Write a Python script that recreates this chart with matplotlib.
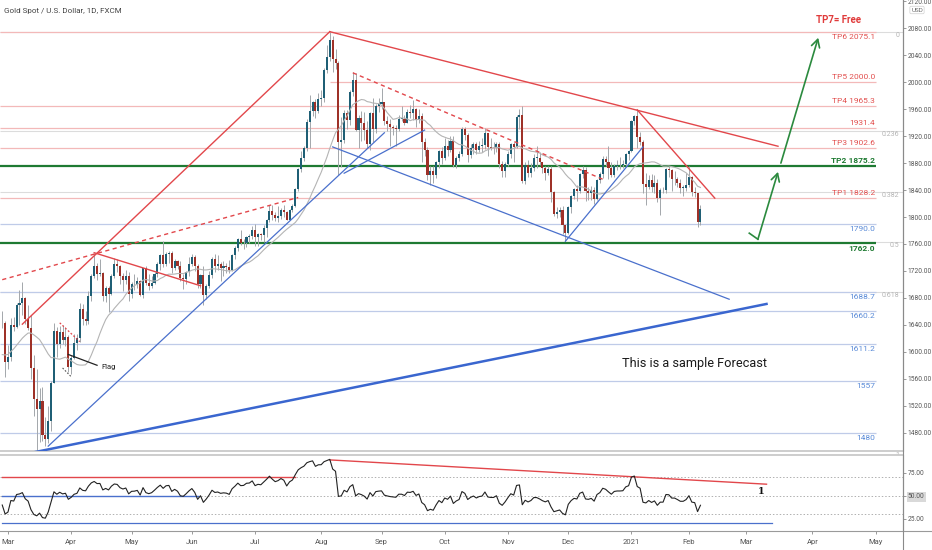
import numpy as np
import pandas as pd
import matplotlib
matplotlib.use('Agg')
import matplotlib.pyplot as plt
from matplotlib.lines import Line2D

plt.rcParams['font.family'] = ['Roboto', 'DejaVu Sans']

# ---------------- data ----------------
title = 'Gold Spot / U.S. Dollar, 1D, FXCM'
holidays = ['2020-04-10', '2020-12-25', '2021-01-01']

# closes before the visible window (used for SMA / RSI warm-up), 2020-02-03 .. 2020-02-26
warmup_closes = [1576, 1553, 1556, 1566, 1570, 1572, 1567, 1566, 1576, 1584, 1581, 1601,
                 1611, 1620, 1643, 1659, 1634, 1642]

first_open = 1642  # 2020-02-27
closes = [
    1643, 1585,
    1592, 1640, 1637, 1670, 1673, 1680, 1649, 1636, 1576, 1530, 1515, 1527, 1477, 1470, 1498, 1553, 1631, 1612, 1629, 1617, 1622, 1577,
    1591, 1613, 1620, 1663, 1648, 1645, 1683, 1713, 1727, 1716, 1717, 1683, 1694, 1686, 1713, 1730, 1728, 1713, 1707, 1713, 1686,
    1700, 1701, 1705, 1685, 1725, 1702, 1697, 1702, 1715, 1730, 1743, 1731, 1745, 1747, 1725, 1735, 1728, 1710, 1708, 1718, 1730,
    1740, 1727, 1700, 1714, 1684, 1697, 1714, 1737, 1728, 1730, 1725, 1727, 1726, 1722, 1743, 1754, 1768, 1761, 1762, 1771, 1772, 1781,
    1770, 1775, 1774, 1784, 1795, 1809, 1803, 1798, 1802, 1810, 1807, 1796, 1810, 1817, 1841, 1871, 1888, 1902, 1941, 1958, 1970, 1957, 1975,
    1976, 2018, 2038, 2063, 2035, 2028, 1911, 1915, 1954, 1944, 1985, 2003, 1929, 1947, 1940, 1929, 1908, 1954, 1930, 1964, 1968,
    1970, 1943, 1938, 1934, 1932, 1930, 1946, 1946, 1940, 1956, 1955, 1960, 1944, 1950, 1912, 1900, 1863, 1868, 1862, 1881, 1898, 1887,
    1906, 1900, 1913, 1877, 1887, 1893, 1930, 1922, 1892, 1902, 1908, 1899, 1905, 1907, 1924, 1904, 1902, 1902, 1908, 1878, 1868, 1879,
    1894, 1909, 1904, 1948, 1951, 1854, 1877, 1866, 1873, 1888, 1888, 1881, 1872, 1866, 1871, 1837, 1805, 1808, 1811, 1788, 1777,
    1815, 1831, 1841, 1838, 1864, 1870, 1838, 1836, 1840, 1827, 1855, 1864, 1886, 1882, 1872, 1863, 1875, 1877, 1877, 1878, 1893, 1898,
    1943, 1950, 1918, 1912, 1849, 1845, 1855, 1845, 1851, 1828, 1840, 1840, 1871, 1870, 1856, 1856, 1850, 1843, 1843, 1848,
    1860, 1837, 1835, 1792, 1812,
]
highs = [
    1660, 1646,
    1610, 1650, 1652, 1672, 1692, 1703, 1681, 1670, 1655, 1595, 1575, 1546, 1548, 1503, 1520, 1556, 1643, 1637, 1638, 1640, 1637, 1625,
    1595, 1626, 1627, 1673, 1671, 1660, 1690, 1716, 1747, 1732, 1738, 1718, 1697, 1698, 1715, 1739, 1738, 1729, 1717, 1722, 1718,
    1703, 1715, 1711, 1707, 1725, 1727, 1715, 1713, 1718, 1733, 1745, 1765, 1748, 1749, 1749, 1737, 1736, 1735, 1716, 1720, 1740,
    1745, 1744, 1730, 1716, 1727, 1700, 1720, 1740, 1745, 1744, 1733, 1735, 1732, 1736, 1745, 1757, 1769, 1780, 1768, 1772, 1775, 1786,
    1789, 1776, 1777, 1788, 1797, 1818, 1818, 1808, 1817, 1814, 1818, 1809, 1812, 1820, 1843, 1872, 1898, 1906, 1945, 1981, 1972, 1975, 1984,
    1988, 2021, 2055, 2075, 2069, 2049, 2031, 1949, 1959, 1959, 1988, 2015, 2013, 1951, 1957, 1956, 1942, 1956, 1976, 1967, 1977,
    1992, 1971, 1950, 1945, 1936, 1936, 1951, 1965, 1952, 1961, 1966, 1973, 1962, 1960, 1954, 1917, 1904, 1875, 1875, 1883, 1900, 1904,
    1917, 1915, 1920, 1920, 1891, 1898, 1933, 1933, 1925, 1908, 1911, 1912, 1913, 1917, 1932, 1925, 1917, 1911, 1912, 1911, 1883, 1882,
    1898, 1910, 1911, 1951, 1960, 1965, 1882, 1885, 1880, 1893, 1906, 1897, 1882, 1876, 1876, 1875, 1839, 1815, 1815, 1817, 1788,
    1817, 1832, 1843, 1848, 1866, 1875, 1874, 1844, 1846, 1845, 1857, 1867, 1891, 1890, 1906, 1882, 1878, 1884, 1889, 1884, 1895, 1900,
    1944, 1952, 1959, 1926, 1915, 1865, 1862, 1864, 1863, 1856, 1843, 1845, 1873, 1876, 1871, 1868, 1859, 1856, 1847, 1866,
    1875, 1861, 1845, 1836, 1818,
]
lows = [
    1636, 1563,
    1575, 1586, 1631, 1635, 1640, 1655, 1641, 1632, 1560, 1504, 1451, 1466, 1468, 1460, 1464, 1482, 1553, 1592, 1606, 1611, 1609, 1570,
    1567, 1589, 1603, 1615, 1640, 1640, 1641, 1676, 1709, 1707, 1712, 1676, 1674, 1659, 1684, 1709, 1719, 1700, 1690, 1700, 1675,
    1680, 1692, 1695, 1683, 1680, 1699, 1692, 1695, 1700, 1711, 1722, 1726, 1728, 1732, 1717, 1722, 1723, 1705, 1693, 1700, 1713,
    1727, 1720, 1694, 1694, 1670, 1679, 1694, 1710, 1719, 1722, 1705, 1712, 1717, 1717, 1720, 1738, 1749, 1758, 1753, 1756, 1762, 1768,
    1757, 1757, 1766, 1763, 1771, 1792, 1796, 1794, 1793, 1797, 1800, 1795, 1795, 1808, 1815, 1839, 1867, 1883, 1898, 1903, 1950, 1947, 1955,
    1964, 1970, 2014, 2031, 2015, 2020, 1863, 1874, 1910, 1930, 1937, 1979, 1928, 1903, 1913, 1915, 1902, 1900, 1912, 1925, 1956,
    1960, 1936, 1927, 1906, 1922, 1906, 1927, 1942, 1937, 1939, 1947, 1944, 1933, 1940, 1882, 1890, 1855, 1848, 1850, 1858, 1873, 1878,
    1884, 1890, 1896, 1874, 1873, 1883, 1891, 1915, 1882, 1888, 1894, 1893, 1896, 1897, 1901, 1891, 1900, 1893, 1897, 1873, 1860, 1860,
    1876, 1888, 1882, 1902, 1931, 1850, 1849, 1860, 1860, 1869, 1873, 1877, 1866, 1855, 1863, 1823, 1801, 1799, 1800, 1775, 1764,
    1775, 1806, 1826, 1824, 1836, 1858, 1824, 1825, 1825, 1819, 1825, 1851, 1858, 1875, 1856, 1859, 1860, 1870, 1871, 1873, 1875, 1885,
    1896, 1936, 1902, 1907, 1836, 1818, 1841, 1837, 1836, 1822, 1803, 1835, 1836, 1860, 1838, 1848, 1844, 1836, 1831, 1839,
    1845, 1831, 1830, 1785, 1788,
]

# horizontal levels
red_levels = [2075.1, 2000.0, 1965.3, 1931.4, 1902.6, 1828.2]
red_labels = ['TP6 2075.1', 'TP5 2000.0', 'TP4 1965.3', '1931.4', 'TP3 1902.6', 'TP1 1828.2']
green_levels = [1875.2, 1762.0]
green_labels = ['TP2 1875.2', '1762.0']
blue_levels = [1790.0, 1688.7, 1660.2, 1611.2, 1557, 1480]
blue_labels = ['1790.0', '1688.7', '1660.2', '1611.2', '1557', '1480']
level_start = {2000.0: '2020-08-06', 1660.2: '2020-04-21'}
labels_below = {'TP6 2075.1', '1762.0', '1790.0', '1688.7', '1660.2', '1611.2', '1557', '1480'}

fib_high, fib_low = 2075.1, 1451.0
fib_ratios = [0, 0.236, 0.382, 0.5, 0.618, 1]
fib_labels = ['0', '0.236', '0.382', '0.5', '0.618', '1']

# trend lines on the price chart: (date, price) anchors
red_solid_lines = [
    [('2020-03-09', 1641), ('2020-08-06', 2075)],
    [('2020-04-14', 1747), ('2020-06-04', 1698)],
    [('2020-08-06', 2075), ('2021-03-16', 1905)],
    [('2021-01-06', 1959), ('2021-02-12', 1828)],
]
red_dashed_lines = [
    [('2020-02-27', 1707), ('2020-07-22', 1829)],
    [('2020-08-18', 2014), ('2020-12-17', 1856)],
]
blue_thin_lines = [
    [('2020-03-20', 1460), ('2020-09-02', 1925)],
    [('2020-08-13', 1865), ('2020-09-22', 1929)],
    [('2020-08-07', 1904), ('2021-02-19', 1678)],
    [('2020-11-30', 1764), ('2021-01-08', 1904)],
]
blue_thick_line = [('2020-03-12', 1450), ('2021-03-10', 1671)]
flag_red = [('2020-03-26', 1643), ('2020-04-06', 1615)]
flag_dark = [('2020-03-27', 1576), ('2020-04-01', 1563)]
flag_pointer = [('2020-03-31', 1596), ('2020-04-15', 1580)]

# forecast path
arrow1_base = [('2021-03-02', 1776), ('2021-03-05', 1767)]
arrow1_tip = ('2021-03-16', 1867)
arrow2 = [('2021-03-17', 1880), ('2021-04-05', 2066)]

# RSI drawings: (date, rsi)
rsi_red_flat = [('2020-02-27', 70), ('2020-07-21', 70)]
rsi_blue_flat = [('2020-02-27', 49.5), ('2020-06-03', 49.5)]
rsi_red_desc = [('2020-08-06', 88.7), ('2021-03-10', 62.5)]
rsi_blue_low = [('2020-02-27', 21), ('2021-03-12', 21)]

# ---------------- calendar ----------------
cal = pd.bdate_range('2020-02-03', '2021-06-30')
cal = cal[~cal.isin(pd.to_datetime(holidays))]
pos = {d: i for i, d in enumerate(cal)}


def X(s):
    return pos[pd.Timestamp(s)]


candle_dates = cal[(cal >= '2020-02-27') & (cal <= '2021-02-05')]
assert len(candle_dates) == len(closes) == len(highs) == len(lows)
xs = np.array([pos[d] for d in candle_dates])
c = np.array(closes, float)
o = np.array([first_open] + closes[:-1], float)
h = np.array(highs, float)
l = np.array(lows, float)

allc = pd.Series(warmup_closes + closes, dtype=float)
sma = allc.rolling(20, min_periods=15).mean().values[len(warmup_closes):]
delta = allc.diff()
gain = delta.clip(lower=0).ewm(alpha=1 / 14, adjust=False).mean()
loss = (-delta.clip(upper=0)).ewm(alpha=1 / 14, adjust=False).mean()
rsi = (100 - 100 / (1 + gain / loss)).values[len(warmup_closes):]

# ---------------- figure ----------------
W, H = 932, 550
fig = plt.figure(figsize=(W / 100, H / 100), dpi=100, facecolor='white')
ax = fig.add_axes([0, 1 - 451 / H, 903 / W, 451 / H])
axr = fig.add_axes([0, 1 - 531 / H, 903 / W, 76 / H])

x0 = X('2020-03-02')
xmin, xmax = x0 - 2.78, x0 + 311.5
for a in (ax, axr):
    a.set_xlim(xmin, xmax)
    a.set_facecolor('white')
    a.spines['left'].set_visible(False)
    a.spines['right'].set_color('#8a8a8a')
    a.spines['right'].set_linewidth(0.8)
ax.set_ylim(1452.8, 2122)
axr.set_ylim(12, 94)
ax.spines['top'].set_visible(False)
ax.spines['bottom'].set_color('#c9c9c9')
ax.spines['bottom'].set_linewidth(1.3)
axr.spines['top'].set_color('#c9c9c9')
axr.spines['top'].set_linewidth(1.3)
axr.spines['bottom'].set_visible(False)

# colours
UP, DN, WICK = '#1f5f75', '#9e3128', '#a3a7ab'
RED_LINE, RED_TXT = '#f3b9b9', '#e2504f'
BLUE_LINE, BLUE_TXT = '#bfcbe8', '#5a8bd8'
GREEN = '#1e7a32'
TREND_RED, TREND_BLUE = '#e2474b', '#4a70cc'

lab_x = X('2021-05-03')

# fib lines
for r, lab in zip(fib_ratios, fib_labels):
    p = fib_high - r * (fib_high - fib_low)
    ax.hlines(p, xmin, xmax, color='#dcdcdc', lw=0.8, zorder=1)
    ax.text(xmax - 1.2, p, lab, ha='right', va='top', fontsize=5, color='#b5b5b5', zorder=6)

# horizontal levels
def level(p, lab, lc, tc, lw, bold):
    start = X(level_start[p]) if p in level_start else xmin
    ax.hlines(p, start, lab_x, color=lc, lw=lw, zorder=2)
    below = lab in labels_below
    ax.annotate(lab, (lab_x - 0.3, p), xytext=(0, -1.5 if below else 1.5), textcoords='offset points',
                ha='right', va='top' if below else 'bottom', fontsize=6, color=tc,
                fontweight='bold' if bold else 'normal', zorder=6)

for p, lab in zip(red_levels, red_labels):
    level(p, lab, RED_LINE, RED_TXT, 0.9, False)
for p, lab in zip(blue_levels, blue_labels):
    level(p, lab, BLUE_LINE, BLUE_TXT, 0.9, False)
for p, lab in zip(green_levels, green_labels):
    level(p, lab, GREEN, GREEN, 1.6, True)

ax.text(X('2021-04-14'), 2092, 'TP7= Free', ha='center', va='center', fontsize=7,
        color='#e03b3b', fontweight='bold', zorder=6)

# candles
ax.vlines(xs, np.minimum(l, np.minimum(o, c)), np.maximum(h, np.maximum(o, c)),
          color=WICK, lw=0.7, zorder=3)
body_lo = np.minimum(o, c)
body_h = np.maximum(np.abs(c - o), 0.8)
ax.bar(xs, body_h, bottom=body_lo, width=0.72, color=np.where(c >= o, UP, DN), lw=0, zorder=4)
ax.plot(xs, sma, color='#b4b4b4', lw=0.8, zorder=4)


def seg(a, pts, **kw):
    a.plot([X(d) for d, _ in pts], [v for _, v in pts], **kw)


for pts in red_solid_lines:
    seg(ax, pts, color=TREND_RED, lw=1.0, zorder=5)
for pts in red_dashed_lines:
    seg(ax, pts, color=TREND_RED, lw=1.0, ls=(0, (3, 2.5)), zorder=5)
for pts in blue_thin_lines:
    seg(ax, pts, color=TREND_BLUE, lw=0.9, zorder=5)
seg(ax, blue_thick_line, color='#3a66cf', lw=1.8, zorder=5)
seg(ax, flag_red, color=TREND_RED, lw=0.9, ls=(0, (1.5, 1.5)), zorder=5)
seg(ax, flag_dark, color='#555555', lw=0.8, ls=(0, (1.5, 1.5)), zorder=5)
seg(ax, flag_pointer, color='#222222', lw=0.9, zorder=5)
ax.text(X('2020-04-16') + 0.5, 1578, 'Flag', ha='left', va='center', fontsize=5.5, color='#222', zorder=6)

# forecast arrows
ARROW_G = '#2b8a3e'
seg(ax, arrow1_base, color=ARROW_G, lw=1.2, zorder=5)
ax.annotate('', xy=(X(arrow1_tip[0]), arrow1_tip[1]), xytext=(X(arrow1_base[1][0]), arrow1_base[1][1]),
            arrowprops=dict(arrowstyle='->,head_length=0.55,head_width=0.3', color=ARROW_G, lw=1.2,
                            shrinkA=0, shrinkB=0), zorder=5)
ax.annotate('', xy=(X(arrow2[1][0]), arrow2[1][1]), xytext=(X(arrow2[0][0]), arrow2[0][1]),
            arrowprops=dict(arrowstyle='->,head_length=0.55,head_width=0.3', color=ARROW_G, lw=1.2,
                            shrinkA=0, shrinkB=0), zorder=5)

ax.text(X('2021-02-03'), 1582, 'This is a sample Forecast', ha='center', va='center',
        fontsize=9.2, color='#1a1a1a', zorder=6)

# price axis
ax.yaxis.tick_right()
ax.set_yticks(np.arange(1480, 2121, 40))
ax.set_yticklabels([f'{v:.2f}' for v in np.arange(1480, 2121, 40)])
ax.tick_params(axis='y', labelsize=4.8, labelcolor='#555555', color='#8a8a8a', length=2.5, width=0.6, pad=1)
ax.set_xticks([])

# RSI panel
for lvl in (70, 50, 30):
    axr.hlines(lvl, xmin, xmax, color='#b0b0b0', lw=0.7, ls=(0, (1.5, 2)), zorder=1)
axr.plot(xs, rsi, color='#222222', lw=0.8, zorder=4)
seg(axr, rsi_red_flat, color=TREND_RED, lw=1.0, zorder=3)
seg(axr, rsi_blue_flat, color=TREND_BLUE, lw=1.0, zorder=3)
seg(axr, rsi_red_desc, color=TREND_RED, lw=1.0, zorder=3)
seg(axr, rsi_blue_low, color=TREND_BLUE, lw=0.9, zorder=3)
axr.text(X('2021-03-08'), 54.5, '1', ha='center', va='center', fontsize=7, fontweight='bold',
         family='DejaVu Serif', color='#111')
axr.yaxis.tick_right()
axr.set_yticks([25, 50, 75])
axr.set_yticklabels(['25.00', '50.00', '75.00'])
axr.tick_params(axis='y', labelsize=4.8, labelcolor='#555555', color='#8a8a8a', length=2.5, width=0.6, pad=1)
axr.get_yticklabels()[1].set_bbox(dict(boxstyle='square,pad=0.2', fc='#d9d9d9', ec='none'))

month_starts = pd.Series(cal).groupby([cal.year, cal.month]).first()
month_starts = [d for d in month_starts if pd.Timestamp('2020-03-01') <= d <= pd.Timestamp('2021-05-31')]
axr.set_xticks([pos[d] for d in month_starts])
axr.set_xticklabels(['2021' if (d.month == 1) else d.strftime('%b') for d in month_starts])
axr.tick_params(axis='x', labelsize=5.5, labelcolor='#555555', color='#8a8a8a', length=2.5, width=0.6, pad=3)

# pane borders / axis line
fig.add_artist(Line2D([0, 1], [1 - 531 / H, 1 - 531 / H], color='#9a9a9a', lw=0.8))
fig.add_artist(Line2D([903 / W, 903 / W], [0, 1], color='#8a8a8a', lw=0.8))

fig.text(4 / W, 1 - 11 / H, title, ha='left', va='center', fontsize=5.8, color='#444444')
fig.text(917 / W, 1 - 10 / H, 'USD', ha='center', va='center', fontsize=4.5, color='#666666',
         bbox=dict(boxstyle='round,pad=0.2', fc='white', ec='#d0d0d0', lw=0.5))

fig.savefig('out.png', dpi=100, facecolor='white')
